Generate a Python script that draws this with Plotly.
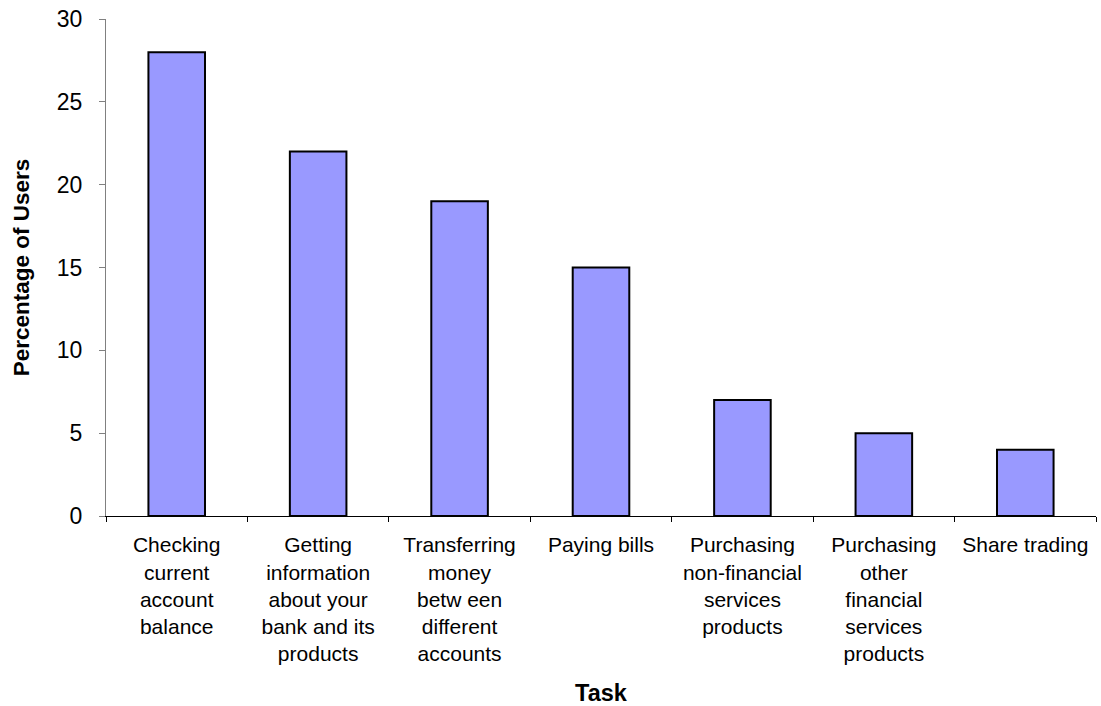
import plotly.graph_objects as go

# Online banking tasks and the share of users performing each
tasks = [
    "Checking<br>current<br>account<br>balance",
    "Getting<br>information<br>about your<br>bank and its<br>products",
    "Transferring<br>money<br>betw een<br>different<br>accounts",
    "Paying bills",
    "Purchasing<br>non-financial<br>services<br>products",
    "Purchasing<br>other<br>financial<br>services<br>products",
    "Share trading",
]
percent_users = [28, 22, 19, 15, 7, 5, 4]
y_ticks = [0, 5, 10, 15, 20, 25, 30]

font_family = "Liberation Sans, Arial, sans-serif"

fig = go.Figure(
    go.Bar(
        x=tasks,
        y=percent_users,
        marker=dict(color="#9999FF", line=dict(color="black", width=2)),
        width=0.4,
    )
)

fig.update_layout(
    width=1101,
    height=706,
    margin=dict(l=106, r=5, t=19, b=190),
    paper_bgcolor="white",
    plot_bgcolor="white",
    showlegend=False,
    font=dict(family=font_family, color="black"),
)

fig.update_xaxes(
    type="category",
    showline=True,
    linecolor="black",
    linewidth=1,
    ticks="outside",
    tickson="boundaries",
    ticklen=5,
    tickcolor="black",
    tickfont=dict(size=21, family=font_family),
    tickangle=0,
    ticklabelstandoff=10,
    title=dict(text="<b>Task</b>", font=dict(size=23.5), standoff=20),
    showgrid=False,
    zeroline=False,
)

fig.update_yaxes(
    range=[0, 30],
    tickvals=y_ticks,
    showline=True,
    linecolor="#808080",
    linewidth=1,
    ticks="outside",
    ticklen=6,
    tickcolor="#808080",
    tickfont=dict(size=23, family=font_family),
    ticklabelstandoff=12,
    title=dict(text="<b>Percentage of Users</b>", font=dict(size=22.5), standoff=20),
    showgrid=False,
    zeroline=False,
)

fig.write_html("out.html")
